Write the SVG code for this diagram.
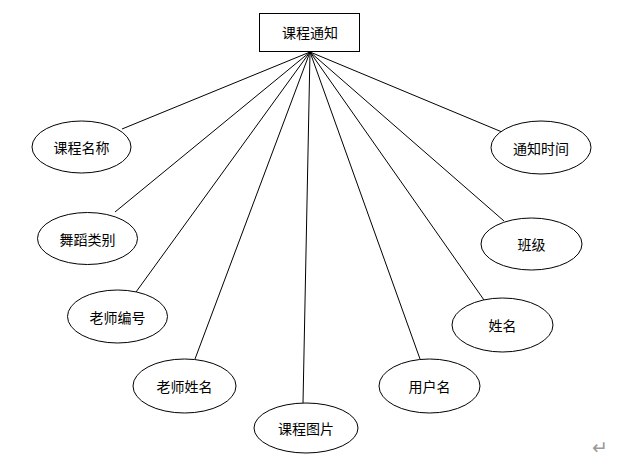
<svg xmlns="http://www.w3.org/2000/svg" width="639" height="468" viewBox="0 0 639 468">
<style>
.n{fill:#fff;stroke:#000;stroke-width:1}
.t{font-family:"Noto Sans CJK SC","Liberation Sans",sans-serif;font-size:14px;fill:#000;text-anchor:middle;dominant-baseline:central}
.c line{stroke:#000;stroke-width:1}
</style>
<rect width="639" height="468" fill="#fff"/>
<g id="connectors" class="c">
<line x1="310" y1="52" x2="122" y2="129"/>
<line x1="310" y1="52" x2="115" y2="212"/>
<line x1="310" y1="52" x2="136" y2="292"/>
<line x1="310" y1="52" x2="195" y2="359"/>
<line x1="310" y1="52" x2="303" y2="403"/>
<line x1="310" y1="52" x2="420" y2="359"/>
<line x1="310" y1="52" x2="484" y2="300"/>
<line x1="310" y1="52" x2="504" y2="221"/>
<line x1="310" y1="52" x2="502" y2="132"/>
</g>
<g id="n-main"><rect class="n" x="259.5" y="13.5" width="100" height="38"/><text class="t" x="310" y="32">课程通知</text></g>
<g id="n-kcmc"><ellipse class="n" cx="81.5" cy="147" rx="49.5" ry="26"/><text class="t" x="81.5" y="147">课程名称</text></g>
<g id="n-wdlb"><ellipse class="n" cx="87.5" cy="238.5" rx="50" ry="26"/><text class="t" x="87.5" y="238.5">舞蹈类别</text></g>
<g id="n-lsbh"><ellipse class="n" cx="117.5" cy="316.5" rx="50" ry="26.5"/><text class="t" x="117.5" y="316.5">老师编号</text></g>
<g id="n-lsxm"><ellipse class="n" cx="184.5" cy="386" rx="51.5" ry="27"/><text class="t" x="184.5" y="386">老师姓名</text></g>
<g id="n-kctp"><ellipse class="n" cx="306" cy="428" rx="52" ry="25"/><text class="t" x="306" y="428">课程图片</text></g>
<g id="n-yhm"><ellipse class="n" cx="429.5" cy="386" rx="50.5" ry="27"/><text class="t" x="429.5" y="386">用户名</text></g>
<g id="n-xm"><ellipse class="n" cx="502.5" cy="325" rx="50.5" ry="27"/><text class="t" x="502.5" y="325">姓名</text></g>
<g id="n-bj"><ellipse class="n" cx="531.5" cy="244" rx="50.5" ry="26"/><text class="t" x="531.5" y="244">班级</text></g>
<g id="n-tzsj"><ellipse class="n" cx="541" cy="147.5" rx="50" ry="26.5"/><text class="t" x="541" y="147.5">通知时间</text></g>
<text x="600" y="447" style="font-family:'DejaVu Sans',sans-serif;font-size:19px;fill:#999;text-anchor:middle;dominant-baseline:central">↵</text>
</svg>
